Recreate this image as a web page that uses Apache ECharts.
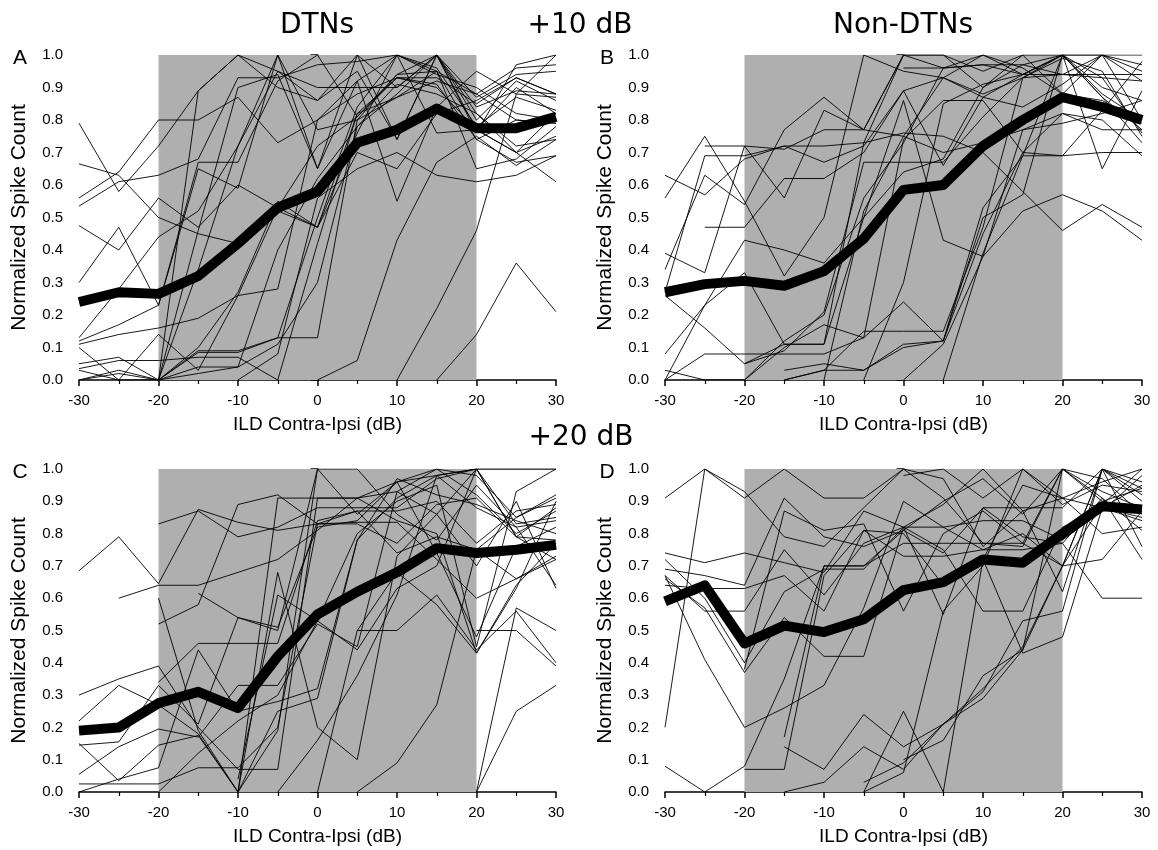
<!DOCTYPE html>
<html><head><meta charset="utf-8">
<script src="https://cdn.jsdelivr.net/npm/echarts@6/dist/echarts.min.js"></script>
<style>html,body{margin:0;padding:0;background:#fff}#c{width:1158px;height:850px}</style>
</head><body><div id="c"></div>
<script>
const ild = [-30,-25,-20,-15,-10,-5,0,5,10,15,20,25,30];
const n = null;

const meanA = [0.24,0.27,0.265,0.32,0.42,0.53,0.58,0.73,0.77,0.835,0.775,0.775,0.81];
const meanB = [0.27,0.295,0.305,0.29,0.335,0.435,0.585,0.60,0.72,0.80,0.87,0.84,0.80];
const meanC = [0.19,0.20,0.275,0.31,0.26,0.42,0.55,0.62,0.68,0.755,0.74,0.75,0.765];
const meanD = [0.59,0.64,0.46,0.515,0.495,0.535,0.625,0.65,0.72,0.71,0.80,0.885,0.875];

const cellsA = [
 [0.79,0.58,0.72,0.89,1.00,0.95,0.90,0.90,0.90,1.00,0.76,0.97,1.00],
 [0.665,0.63,0.50,0.45,0.42,0.52,0.47,0.82,0.93,0.93,0.85,0.93,0.88],
 [0.56,0.64,0.80,0.80,0.87,0.73,0.80,0.88,0.93,0.90,0.77,0.70,0.61],
 [0.535,0.61,0.63,0.68,0.93,0.93,0.97,0.98,1.00,0.94,0.90,0.82,0.80],
 [0.475,0.40,0.56,0.47,0.60,0.53,0.47,0.70,0.65,0.82,0.86,0.93,0.88],
 [0.30,0.47,0.23,0.65,0.59,1.00,0.65,0.92,0.55,0.84,0.95,0.88,0.87],
 [0.13,0.28,0.44,0.52,0.72,0.95,0.86,0.95,0.74,1.00,0.77,0.70,0.75],
 [0.12,0.17,0.23,0.67,0.67,0.92,1.00,0.81,0.93,0.91,0.74,0.67,0.69],
 [0.11,0.14,0.16,0.19,0.26,0.28,0.80,0.92,1.00,0.96,0.78,0.87,0.83],
 [0.05,0.07,0.00,0.085,0.085,0.13,0.13,0.80,0.94,1.00,0.84,0.89,0.88],
 [0.035,0.06,0.06,0.07,0.07,0.00,0.42,0.82,0.87,0.95,0.88,0.80,0.79],
 [0.00,0.02,0.00,0.04,0.04,0.11,0.30,0.78,0.91,0.88,0.82,0.72,0.74],
 [0.03,0.00,0.14,0.03,0.26,0.53,0.72,0.81,0.94,0.95,0.74,0.80,0.79],
 [0.10,0.00,0.00,0.34,0.72,1.00,0.77,0.80,0.87,0.92,0.88,0.96,0.97],
 [n,n,0.00,0.46,0.90,0.94,0.65,1.00,0.90,1.00,0.80,0.92,0.86],
 [n,n,0.00,0.89,1.00,0.90,0.86,1.00,0.74,1.00,0.87,0.94,0.95],
 [n,n,0.00,0.10,0.27,0.55,0.47,0.76,1.00,0.76,0.77,0.90,0.82],
 [n,n,0.00,0.02,0.04,0.40,0.62,0.78,0.88,1.00,0.82,0.70,0.82],
 [n,n,n,n,0.00,0.08,0.56,0.65,0.70,0.63,0.61,0.63,0.69],
 [n,n,n,n,n,n,0.00,0.06,0.43,0.67,0.75,0.66,0.74],
 [n,n,n,n,n,n,n,n,0.00,0.22,0.46,0.88,1.00],
 [n,n,n,n,n,n,n,n,n,0.00,0.14,0.36,0.21],
 [0.00,0.03,0.00,0.09,0.09,0.13,0.50,0.84,1.00,0.95,0.65,0.68,0.78]
];
const cellsB = [
 [0.63,0.57,0.68,0.72,0.72,0.73,1.00,1.00,0.95,1.00,1.00,1.00,1.00],
 [0.56,0.75,0.55,0.32,0.50,1.00,0.95,0.93,1.00,0.94,1.00,0.87,0.73],
 [0.39,0.33,0.72,0.56,0.83,0.77,1.00,0.96,0.97,0.97,0.94,0.93,0.92],
 [0.34,0.63,0.54,0.77,0.87,0.77,1.00,1.00,0.90,1.00,0.88,1.00,0.92],
 [0.27,0.69,0.69,0.72,0.67,0.72,0.89,0.66,0.87,0.94,1.00,0.90,0.86],
 [0.26,0.16,0.05,0.11,0.11,0.50,0.86,0.43,0.38,0.52,0.57,0.52,0.43],
 [0.08,0.23,0.33,0.11,0.11,0.73,0.76,0.75,0.70,0.58,0.46,0.54,0.47],
 [0.00,0.23,0.43,0.40,0.36,0.50,0.64,0.68,0.90,0.97,1.00,0.93,0.76],
 [0.00,0.08,0.08,0.08,0.08,0.13,0.24,0.12,0.45,0.70,0.82,0.80,0.69],
 [0.03,0.00,0.00,0.10,0.17,0.13,0.74,0.86,0.86,0.70,0.69,0.70,0.70],
 [n,0.47,0.47,0.62,0.62,0.70,0.89,0.93,0.88,0.93,0.94,0.94,0.94],
 [n,0.72,0.72,0.71,0.77,0.77,0.75,0.70,0.73,0.77,0.79,0.82,0.86],
 [n,n,0.05,0.09,0.21,0.67,0.67,0.67,0.81,0.93,1.00,1.00,0.80],
 [n,n,0.00,0.12,0.20,0.56,0.73,0.96,1.00,0.96,0.88,0.86,0.79],
 [n,n,n,0.00,0.03,0.03,0.10,0.12,0.50,0.57,1.00,0.65,0.89],
 [n,n,n,0.03,0.05,0.03,0.11,0.12,0.53,0.69,1.00,0.87,0.77],
 [n,n,n,0.00,0.03,0.15,0.15,0.15,0.47,0.93,0.99,0.95,0.75],
 [n,n,n,n,0.00,0.52,0.75,0.93,0.87,0.84,0.91,1.00,0.95],
 [n,n,n,n,n,0.00,0.30,0.85,0.91,0.94,1.00,0.88,0.80],
 [n,n,n,n,n,n,0.00,0.11,0.38,0.77,0.82,0.77,0.77],
 [n,n,n,n,n,n,n,0.00,0.39,0.69,0.69,0.83,0.98],
 [n,n,n,n,n,n,0.96,0.96,0.97,0.94,0.94,1.00,0.97]
];
const cellsC = [
 [0.685,0.79,0.645,0.875,0.835,0.81,0.83,0.835,0.835,0.72,0.60,0.66,0.73],
 [0.30,0.35,0.39,0.20,0.07,0.07,0.91,0.91,0.84,0.80,0.43,0.64,0.77],
 [0.22,0.33,0.27,0.18,0.00,0.91,0.91,0.91,0.96,0.98,1.00,1.00,1.00],
 [0.15,0.035,0.145,0.175,0.00,0.19,1.00,0.86,0.96,1.00,0.92,0.80,0.87],
 [0.145,0.155,0.33,0.21,0.54,0.50,1.00,1.00,0.86,0.78,0.95,0.82,0.84],
 [0.055,0.14,0.195,0.17,0.33,0.33,0.52,0.45,0.93,1.00,0.98,0.85,0.92],
 [0.025,0.025,0.025,0.075,0.075,0.20,0.83,0.87,0.74,0.79,0.75,0.66,0.72],
 [0.00,0.04,0.075,0.44,0.25,0.28,0.32,0.78,0.91,0.98,1.00,0.83,0.85],
 [n,0.60,0.64,0.64,0.68,0.72,0.81,0.91,0.93,0.86,0.70,0.90,0.63],
 [n,n,0.83,0.87,0.79,0.82,0.88,0.88,0.88,0.97,1.00,1.00,1.00],
 [n,n,0.52,0.58,0.89,0.92,0.83,0.83,0.77,0.89,0.91,0.79,0.78],
 [n,n,0.60,0.19,0.00,0.25,0.29,0.78,0.97,0.92,0.89,0.84,0.80],
 [n,n,0.34,0.46,0.46,0.46,0.84,0.87,0.87,0.90,0.77,0.87,0.89],
 [n,n,0.00,0.12,0.22,0.30,0.53,0.80,0.90,0.95,0.45,0.93,1.00],
 [n,n,n,0.615,0.54,0.51,0.82,0.84,0.96,0.74,0.48,0.76,0.82],
 [n,n,n,n,0.04,0.61,0.53,0.44,0.63,0.70,1.00,0.79,0.88],
 [n,n,n,n,0.00,0.68,0.20,0.10,0.73,0.86,1.00,0.79,0.72],
 [n,n,n,n,n,0.00,0.16,0.36,0.61,0.98,0.88,0.82,0.64],
 [n,n,n,n,n,n,0.00,0.50,0.50,0.61,0.44,0.56,0.40],
 [n,n,n,n,n,n,n,0.00,0.09,0.27,0.75,0.85,0.91],
 [n,n,n,n,n,n,n,n,n,n,0.50,0.50,0.39],
 [n,n,n,n,n,n,n,n,n,n,0.00,0.25,0.33],
 [n,n,n,n,n,n,n,n,n,n,0.00,0.57,0.50],
 [n,n,n,n,n,n,n,0.50,0.68,0.58,0.43,0.63,0.90]
];
const cellsD = [
 [0.91,1.00,0.91,1.00,0.91,0.91,1.00,0.91,0.77,0.77,0.70,1.00,0.94],
 [0.74,0.71,0.74,0.71,0.68,0.87,0.82,0.75,0.56,0.56,0.82,0.88,0.95],
 [0.69,0.67,0.64,0.91,0.79,0.76,0.81,0.74,0.88,0.88,0.88,1.00,0.90],
 [0.67,0.56,0.56,0.75,0.61,0.77,0.82,0.82,0.84,0.84,0.78,0.87,0.98],
 [0.64,0.63,0.63,0.67,0.56,0.81,0.73,0.73,0.75,0.75,0.77,0.91,0.81],
 [0.20,1.00,0.93,0.79,0.76,0.88,1.00,0.97,0.76,0.87,0.91,0.88,0.84],
 [0.08,0.00,0.08,0.35,0.70,0.70,0.81,0.90,0.97,0.86,1.00,0.91,0.72],
 [0.72,0.60,0.40,0.62,0.69,0.69,0.82,0.89,1.00,0.87,0.62,1.00,0.96],
 [0.66,0.57,0.37,0.54,0.42,0.42,0.82,0.55,0.88,0.79,0.77,0.60,0.60],
 [0.67,0.41,0.20,0.26,0.33,0.57,0.90,0.82,0.75,0.80,0.70,0.89,1.00],
 [n,n,0.07,0.07,0.67,0.81,0.80,0.64,0.72,0.43,0.48,0.88,0.85],
 [n,n,0.38,0.87,0.81,0.83,0.56,0.80,0.87,0.77,1.00,0.90,0.94],
 [n,n,n,0.17,0.70,0.70,0.77,0.77,0.77,0.76,1.00,0.93,0.88],
 [n,n,n,0.14,0.07,0.24,0.14,0.21,0.31,0.53,0.56,1.00,0.92],
 [n,n,n,0.00,0.03,0.14,0.07,0.21,0.29,0.44,1.00,0.97,0.86],
 [n,n,n,n,n,0.03,0.09,0.21,0.32,0.45,0.70,1.00,0.76],
 [n,n,n,n,n,0.00,0.25,0.00,0.72,0.95,0.91,0.96,1.00],
 [n,n,n,n,n,0.00,0.06,0.56,0.70,1.00,0.91,0.80,0.82],
 [n,n,n,n,n,n,0.10,0.16,0.36,0.44,0.70,0.72,0.87],
 [n,n,n,n,n,n,0.98,1.00,0.91,1.00,0.89,0.95,0.93]
];
const shade = [-20, 20];

const panels = [
  {cells: cellsA, mean: meanA},
  {cells: cellsB, mean: meanB},
  {cells: cellsC, mean: meanC},
  {cells: cellsD, mean: meanD}
];
const grids = [
  {left: 79, top: 55, width: 477, height: 325},
  {left: 665, top: 55, width: 477, height: 325},
  {left: 79, top: 469, width: 477, height: 323},
  {left: 665, top: 469, width: 477, height: 323}
];
const FONT = 'Liberation Sans';
const axisLine = {show: true, lineStyle: {color: '#000', width: 1.5}};
const xAxes = [], yAxes = [], series = [];
panels.forEach((p, i) => {
  xAxes.push({
    type: 'value', gridIndex: i, min: -30, max: 30, interval: 10,
    name: 'ILD Contra-Ipsi (dB)', nameLocation: 'middle', nameGap: 35,
    nameTextStyle: {fontFamily: FONT, fontSize: 19, color: '#000'},
    axisLine: axisLine, splitLine: {show: false},
    axisTick: {show: true, length: 6, lineStyle: {color: '#000', width: 1.5}},
    minorTick: {show: true, splitNumber: 2, length: 4, lineStyle: {color: '#000', width: 1.2}},
    axisLabel: {fontFamily: FONT, fontSize: 15, color: '#000', margin: 13}
  });
  yAxes.push({
    type: 'value', gridIndex: i, min: 0, max: 1, interval: 0.1,
    name: 'Normalized Spike Count', nameLocation: 'middle', nameGap: 49,
    nameTextStyle: {fontFamily: FONT, fontSize: 21, color: '#000'},
    axisLine: axisLine, splitLine: {show: false},
    axisTick: {show: true, length: 7, lineStyle: {color: '#000', width: 1.5}},
    minorTick: {show: true, splitNumber: 2, length: 4, lineStyle: {color: '#000', width: 1.2}},
    axisLabel: {fontFamily: FONT, fontSize: 15, color: '#000', margin: 16,
      formatter: v => v.toFixed(1)}
  });
  series.push({
    type: 'line', xAxisIndex: i, yAxisIndex: i, data: [], silent: true,
    markArea: {silent: true, itemStyle: {color: '#afafaf'},
      data: [[{xAxis: shade[0], yAxis: 0}, {xAxis: shade[1], yAxis: 1}]]}
  });
  p.cells.forEach(c => {
    series.push({
      type: 'line', xAxisIndex: i, yAxisIndex: i, symbol: 'none', silent: true,
      lineStyle: {color: '#000', width: 0.9},
      data: ild.map((x, k) => [x, c[k]]).filter(d => d[1] !== null)
    });
  });
  series.push({
    type: 'line', xAxisIndex: i, yAxisIndex: i, symbol: 'none', silent: true,
    lineStyle: {color: '#000', width: 10, join: 'round'}, z: 5,
    data: ild.map((x, k) => [x, p.mean[k]])
  });
});

function txt(t, font, x, y) {
  return {type: 'text', style: {text: t, font: font, fill: '#000', x: x, y: y, align: 'center', verticalAlign: 'middle'}};
}
const TF = '28px "DejaVu Sans"', LF = '21px "Liberation Sans"';
const graphic = [
  txt('DTNs', TF, 317, 26), txt('Non-DTNs', TF, 903, 26),
  txt('+10 dB', TF, 580, 26), txt('+20 dB', TF, 581, 438),
  txt('A', LF, 20, 58), txt('B', LF, 607, 58),
  txt('C', LF, 20, 472), txt('D', LF, 607, 472)
];

const chart = echarts.init(document.getElementById('c'), null, {renderer: 'canvas'});
chart.setOption({
  animation: false, backgroundColor: '#fff',
  grid: grids, xAxis: xAxes, yAxis: yAxes, series: series, graphic: graphic
});
</script></body></html>
